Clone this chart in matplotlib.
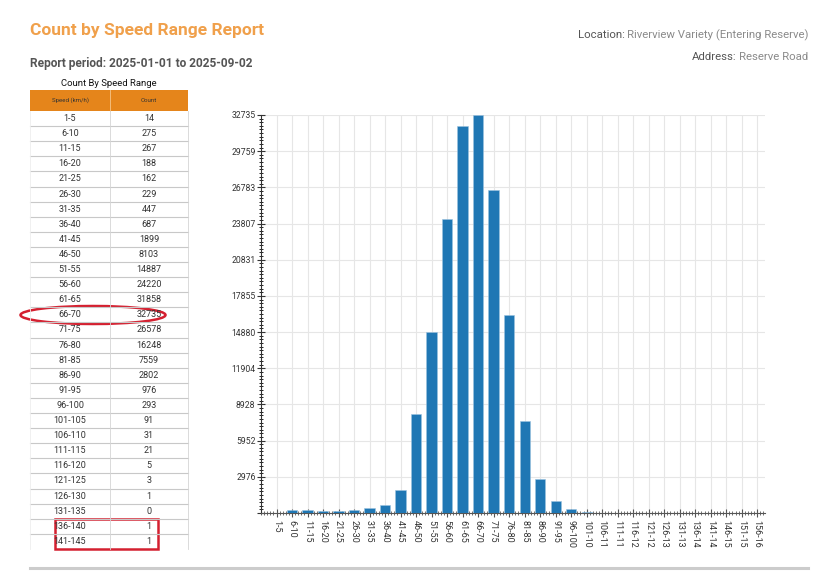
import matplotlib
matplotlib.use('Agg')
import matplotlib.pyplot as plt
from matplotlib import font_manager
from matplotlib.patches import Ellipse, Rectangle
from matplotlib.ticker import FixedLocator, AutoMinorLocator

# table rows (speed ranges in km/h and counts)
speed_ranges = ['1-5', '6-10', '11-15', '16-20', '21-25', '26-30', '31-35', '36-40',
                '41-45', '46-50', '51-55', '56-60', '61-65', '66-70', '71-75', '76-80',
                '81-85', '86-90', '91-95', '96-100', '101-105', '106-110', '111-115',
                '116-120', '121-125', '126-130', '131-135', '136-140', '141-145']
counts = [14, 275, 267, 188, 162, 229, 447, 687, 1899, 8103, 14887, 24220, 31858,
          32735, 26578, 16248, 7559, 2802, 976, 293, 91, 31, 21, 5, 3, 1, 0, 1, 1]

# the chart goes on to 156-160, labels cut to 6 chars
extra_ranges = ['146-150', '151-155', '156-160']
extra_counts = [0, 0, 0]
chart_ranges = speed_ranges + extra_ranges
chart_counts = counts + extra_counts
chart_labels = [s[:6] for s in chart_ranges]

names = {f.name for f in font_manager.fontManager.ttflist}
NARROW = 'Liberation Sans Narrow' if 'Liberation Sans Narrow' in names else 'Roboto'
plt.rcParams['font.family'] = [NARROW, 'DejaVu Sans']

ORANGE = '#F0A04B'
HEAD = '#E5851B'
BLUE = '#1F77B4'

fig = plt.figure(figsize=(8.38, 5.85), dpi=100)

# overlay axes in pixel coords for text / table
bg = fig.add_axes([0, 0, 1, 1])
bg.set_xlim(0, 838)
bg.set_ylim(585, 0)
bg.axis('off')

bg.text(30, 31, 'Count by Speed Range Report', color=ORANGE, fontsize=12.5,
        fontweight='bold', va='center', ha='left')
bg.text(30, 64, 'Report period: 2025-01-01 to 2025-09-02', color='#555555',
        fontsize=8.6, fontweight='bold', va='center', ha='left')

rend = fig.canvas.get_renderer()


def label_value(y, label, value):
    t = bg.text(808, y, value, color='#8a8a8a', fontsize=8.2, va='center', ha='right')
    bb = t.get_window_extent(renderer=rend)
    bg.text(808 - bb.width - 2, y, label, color='#555555', fontsize=8.2,
            va='center', ha='right')


label_value(35, 'Location:', 'Riverview Variety (Entering Reserve)')
label_value(57, 'Address:', 'Reserve Road')

# table
tx0, tx1, tmid = 30, 188, 110
head_top, head_bot = 90, 111
row_h = 15.1
bg.text(109, 83, 'Count By Speed Range', fontsize=6.8, ha='center', va='center',
        color='#111111')
bg.add_patch(Rectangle((tx0, head_top), tx1 - tx0, head_bot - head_top,
                       facecolor=HEAD, edgecolor='none'))
bg.plot([tmid, tmid], [head_top, head_bot], color='#f5c58a', lw=0.6)
bg.text((tx0 + tmid) / 2, (head_top + head_bot) / 2, 'Speed (km/h)', fontsize=4.4,
        ha='center', va='center', color='#333333')
bg.text((tmid + tx1) / 2, (head_top + head_bot) / 2, 'Count', fontsize=4.4,
        ha='center', va='center', color='#333333')
bottom = head_bot + row_h * len(speed_ranges)
for i, (r, c) in enumerate(zip(speed_ranges, counts)):
    yc = head_bot + row_h * (i + 0.5)
    bg.text((tx0 + tmid) / 2, yc, r, fontsize=6.5, ha='center', va='center',
            color='#333333')
    bg.text((tmid + tx1) / 2, yc, str(c), fontsize=6.5, ha='center', va='center',
            color='#333333')
    yl = head_bot + row_h * (i + 1)
    if i < len(speed_ranges) - 1:
        bg.plot([tx0, tx1], [yl, yl], color='#c8c8c8', lw=0.8)
bg.plot([tmid, tmid], [head_bot, bottom], color='#d5d5d5', lw=0.6)
bg.plot([tx1, tx1], [head_bot, bottom], color='#d5d5d5', lw=0.6)
bg.plot([tx0, tx0], [head_bot, bottom], color='#eeeeee', lw=0.6)

# annotations
bg.add_patch(Ellipse((93, 315), 145, 18, facecolor='none', edgecolor='#D42030', lw=1.8))
bg.add_patch(Rectangle((55, 519), 103, 30, facecolor='none', edgecolor='#D42030', lw=1.8))

# bottom separator
bg.plot([30, 808], [568, 568], color='#cccccc', lw=2.2)

# bar chart
ax = fig.add_axes([261 / 838, 72 / 585, 504 / 838, 398 / 585])
x = list(range(len(chart_counts)))
ax.bar(x, chart_counts, width=0.66, color=BLUE, edgecolor='#9cc3e0', linewidth=0.4,
       zorder=3)
ymax = max(chart_counts)
step = ymax / 11
yt = [step * k for k in range(12)]
ax.set_ylim(0, ymax)
ax.set_xlim(-1, len(chart_counts) - 0.5)
ax.yaxis.set_major_locator(FixedLocator(yt))
ax.set_yticklabels([''] + [str(round(v)) for v in yt[1:]])
ax.yaxis.set_minor_locator(AutoMinorLocator(10))
ax.set_xticks(x)
ax.set_xticklabels(chart_labels, rotation=-90, fontsize=6.5, color='#333333')
ax.xaxis.set_minor_locator(AutoMinorLocator(5))
ax.tick_params(axis='y', labelsize=6.2, labelcolor='#333333', direction='inout',
               length=6, width=0.8, color='#333333', pad=1)
ax.tick_params(axis='y', which='minor', direction='inout', length=3, width=0.6)
ax.tick_params(axis='x', direction='inout', length=6, width=0.8, color='#555555',
               pad=2)
ax.tick_params(axis='x', which='minor', direction='inout', length=3, width=0.6,
               color='#555555')
ax.grid(True, which='major', color='#e6e6e6', lw=0.8, zorder=0)
for s in ['top', 'right']:
    ax.spines[s].set_visible(False)
ax.spines['left'].set_color('#333333')
ax.spines['bottom'].set_color('#555555')
ax.set_axisbelow(True)

fig.savefig('out.png', dpi=100)
